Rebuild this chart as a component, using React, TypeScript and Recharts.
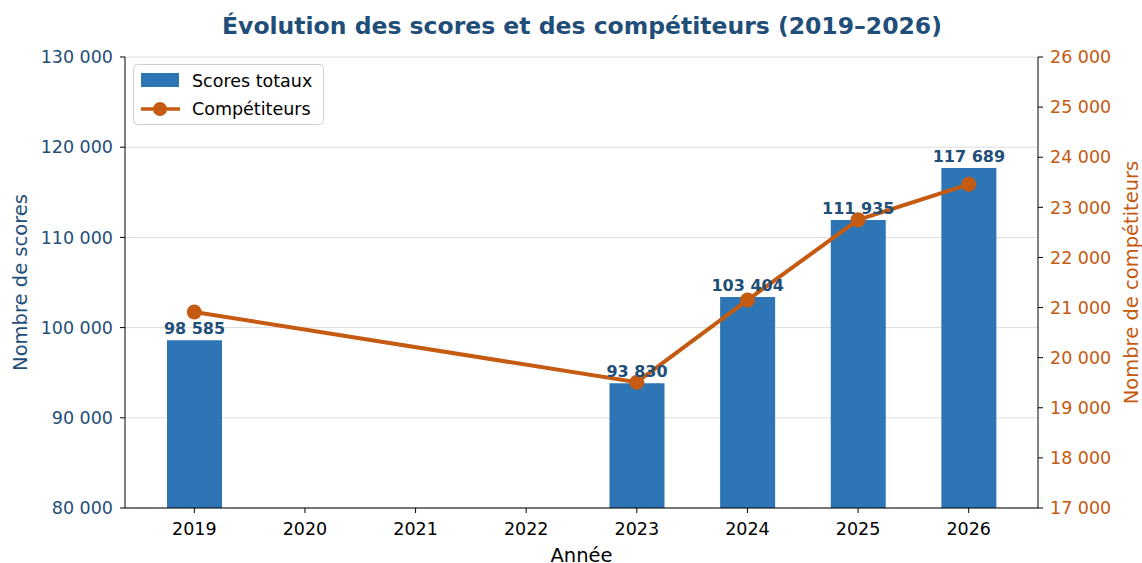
import {
  ComposedChart,
  Bar,
  Line,
  XAxis,
  YAxis,
  CartesianGrid,
  LabelList,
} from "recharts";

const years = ["2019", "2020", "2021", "2022", "2023", "2024", "2025", "2026"];
const scores = [98585, null, null, null, 93830, 103404, 111935, 117689];
const competitors = [20910, null, null, null, 19510, 21150, 22750, 23460];
const leftTicks = [80000, 90000, 100000, 110000, 120000, 130000];
const rightTicks = [17000, 18000, 19000, 20000, 21000, 22000, 23000, 24000, 25000, 26000];

const data = years.map((year, i) => ({
  year,
  scores: scores[i],
  competitors: competitors[i],
}));

const BLUE = "#2e75b6";
const ORANGE = "#c55a11";
const NAVY = "#1f4e79";
const FONT = "DejaVu Sans, sans-serif";

const fmt = (v: number) => String(v).replace(/\B(?=(\d{3})+(?!\d))/g, " ");

// bar value labels, kept on one line
const BarValue = (props: any) => {
  const { x, y, width, value } = props;
  if (value == null) return null;
  return (
    <text
      x={Number(x) + Number(width) / 2}
      y={Number(y) - 6}
      textAnchor="middle"
      fill={NAVY}
      fontSize={16}
      fontWeight="bold"
      fontFamily={FONT}
    >
      {fmt(value)}
    </text>
  );
};

function LegendBox() {
  return (
    <svg width={192} height={62} style={{ position: "absolute", left: 133, top: 64 }}>
      <rect x={0.5} y={0.5} width={190} height={60} rx={4} fill="rgba(255,255,255,0.85)" stroke="#d0d0d0" />
      <rect x={8} y={9} width={38} height={14} fill={BLUE} />
      <line x1={8} y1={45} x2={47} y2={45} stroke={ORANGE} strokeWidth={3.5} />
      <circle cx={27} cy={45} r={7} fill={ORANGE} />
      <text x={59} y={23} fontFamily={FONT} fontSize={17.5}>Scores totaux</text>
      <text x={59} y={51} fontFamily={FONT} fontSize={17.5}>Compétiteurs</text>
    </svg>
  );
}

export default function App() {
  return (
    <div style={{ position: "absolute", left: 0, top: 0, width: 1142, height: 563, background: "#fff" }}>
      <div
        style={{
          position: "absolute",
          top: 11,
          left: 0,
          width: 1164,
          textAlign: "center",
          fontFamily: FONT,
          fontWeight: "bold",
          fontSize: 23.5,
          lineHeight: "30px",
          color: NAVY,
        }}
      >
        Évolution des scores et des compétiteurs (2019–2026)
      </div>
      <ComposedChart
        width={1142}
        height={563}
        data={data}
        margin={{ top: 57, right: 0, left: 0, bottom: 0 }}
        barCategoryGap={0}
      >
        <CartesianGrid vertical={false} yAxisId="left" stroke="#dcdcdc" />
        <XAxis
          dataKey="year"
          height={55}
          padding={{ left: 14, right: 14 }}
          stroke="#000"
          tickSize={5}
          tickMargin={10}
          tick={{ fill: "#000", fontSize: 17.5, fontFamily: FONT }}
          label={{
            value: "Année",
            position: "insideBottom",
            offset: 1.5,
            style: { fill: "#000", fontSize: 19.5, fontFamily: FONT },
          }}
        />
        <YAxis
          yAxisId="left"
          width={125}
          domain={[80000, 130000]}
          ticks={leftTicks}
          allowDataOverflow
          stroke="#000"
          tickSize={5}
          tickMargin={7}
          tickFormatter={fmt}
          tick={{ fill: NAVY, fontSize: 17.5, fontFamily: FONT }}
          label={{
            value: "Nombre de scores",
            angle: -90,
            position: "insideLeft",
            offset: 20,
            style: { fill: NAVY, fontSize: 19.5, fontFamily: FONT, textAnchor: "middle" },
          }}
        />
        <YAxis
          yAxisId="right"
          orientation="right"
          width={104}
          domain={[17000, 26000]}
          ticks={rightTicks}
          allowDataOverflow
          stroke="#000"
          tickSize={5}
          tickMargin={7}
          tickFormatter={fmt}
          tick={{ fill: ORANGE, fontSize: 17.5, fontFamily: FONT }}
          label={{
            value: "Nombre de compétiteurs",
            angle: -90,
            position: "insideRight",
            offset: 11,
            style: { fill: ORANGE, fontSize: 19.5, fontFamily: FONT, textAnchor: "middle" },
          }}
        />
        <Bar yAxisId="left" dataKey="scores" fill={BLUE} barSize={55} isAnimationActive={false}>
          <LabelList dataKey="scores" content={BarValue} />
        </Bar>
        <Line
          yAxisId="right"
          dataKey="competitors"
          stroke={ORANGE}
          strokeWidth={4}
          connectNulls
          dot={{ r: 7.5, fill: ORANGE, stroke: ORANGE, strokeWidth: 0 }}
          activeDot={false}
          isAnimationActive={false}
        />
      </ComposedChart>
      <LegendBox />
    </div>
  );
}
